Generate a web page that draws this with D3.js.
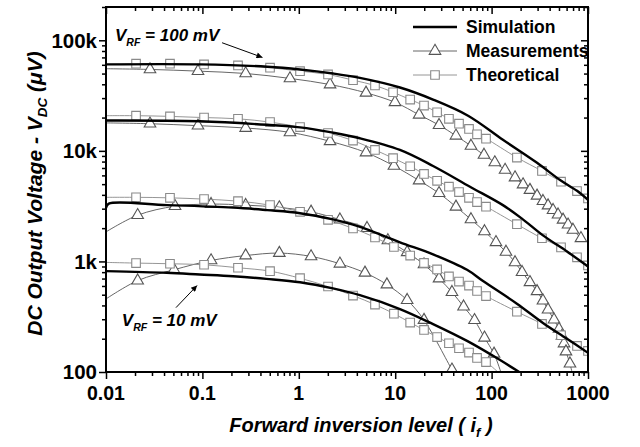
<!DOCTYPE html>
<html><head><meta charset="utf-8">
<script src="https://cdn.jsdelivr.net/npm/d3@7"></script>
<style>html,body{margin:0;padding:0;background:#fff;}svg{display:block;font-family:"Liberation Sans",Arial,sans-serif;}</style>
</head><body><svg id="c" width="640" height="447"></svg>
<script>
// ---- data: [forward inversion level i_f, V_DC in µV] ----
const simA  = [[0.01,60500],[0.094,60500],[0.47,57700],[1.03,54500],[2.26,50100],[4.3,45700],[11.2,37400],[24.7,29100],[57,20800],[131,12600],[296,7800],[513,5450],[769,4350],[1000,3600]];
const theoA = [[0.01,60500],[0.0205,61400],[0.0461,61400],[0.104,60500],[0.234,59300],[0.503,56500],[1.03,52600],[2.01,49100],[3.65,43600],[6.17,39000],[9.5,33900],[14.3,29100],[19.9,25700],[27.2,22300],[36.1,19500],[45.9,17600],[58.3,15800],[70.6,14100],[87.5,12900],[183,8700],[333,6580],[525,5260],[769,4330],[1000,3710]];
const measA = [[0.01,55300],[0.0286,54500],[0.09,52600],[0.281,50100],[0.81,45200],[2.11,39800],[4.98,33500],[9.95,27500],[17.7,21200],[28.5,17100],[42.7,13700],[61.1,11100],[83.4,9200],[108,7860],[138,6720],[175,5740],[212,4960],[250,4420],[296,3920],[341,3510],[385,3200],[434,2910],[489,2650],[551,2380],[621,2150],[698,1930],[845,1620]];

const simB  = [[0.01,18800],[0.094,18500],[0.47,17200],[1.03,16300],[2.26,14600],[4.3,13000],[11.2,10200],[24.7,7300],[59.7,4740],[131,3230],[205,2450],[341,1720],[605,1230],[1000,900]];
const theoB = [[0.01,20800],[0.0205,20800],[0.0461,20500],[0.104,20000],[0.234,19500],[0.503,18200],[1.03,16400],[2.01,14500],[3.65,12400],[6.17,10200],[9.5,8590],[14.3,7260],[19.9,6180],[27.2,5360],[36.1,4740],[45.9,4240],[58.3,3760],[70.6,3440],[87.5,3130],[183,2170],[333,1620],[525,1340],[769,1090],[1000,920]];
const measB = [[0.01,17900],[0.0286,17600],[0.09,16900],[0.281,16100],[0.81,14700],[2.11,12200],[4.98,9660],[9.7,7310],[17.7,5390],[28.5,4140],[42.7,3120],[61.1,2400],[84.4,1870],[111,1490],[141,1220],[175,980],[207,800],[250,648],[296,537],[341,442],[385,366],[444,297],[500,245],[537,212],[564,181],[591,153],[650,119],[690,95]];

const simC  = [[0.01,3050],[0.0107,3330],[0.043,3230],[0.208,3070],[0.47,2910],[1.03,2730],[2.26,2400],[3.65,2150],[5.1,1950],[11.2,1490],[24.7,1160],[55.6,840],[81.5,665],[183,415],[341,278],[605,200],[1000,149]];
const theoC = [[0.01,3800],[0.0205,3800],[0.0461,3760],[0.104,3660],[0.234,3510],[0.503,3230],[1.03,2810],[2.01,2380],[3.65,1990],[6.17,1650],[9.7,1350],[14.3,1130],[19.9,970],[27.2,846],[36.1,731],[45.9,657],[58.3,605],[70.6,540],[87.5,486],[183,351],[333,272],[525,215],[769,172],[1000,155]];
const measC = [[0.01,1850],[0.0213,2620],[0.052,3160],[0.123,3300],[0.281,3230],[0.628,3080],[1.34,2810],[2.67,2390],[5.1,2000],[8.4,1550],[13.3,1210],[19.9,939],[28.5,700],[38.8,528],[51.2,390],[66.5,294],[84.4,204],[106,146],[127,95]];

const simD  = [[0.01,817],[0.0426,789],[0.094,762],[0.208,735],[0.46,696],[1.03,648],[2.26,570],[4.3,495],[11.2,371],[24.7,271],[55.6,191],[103.5,140],[197,99]];
const theoD = [[0.01,980],[0.0205,966],[0.0461,953],[0.104,933],[0.234,877],[0.503,817],[1.03,705],[2.01,593],[3.65,491],[6.17,407],[9.7,337],[14.3,280],[19.9,240],[27.2,207],[36.1,182],[45.9,164],[58.3,150],[70.6,134],[87.5,123],[122,96]];
const measD = [[0.01,458],[0.0213,671],[0.0508,841],[0.123,1020],[0.281,1130],[0.628,1190],[1.34,1110],[2.67,953],[4.86,789],[8.2,618],[13.3,447],[19.9,295],[38.8,105],[41.5,96]];

const xTicks = [0.01,0.1,1,10,100,1000];
const xTickLabels = ["0.01","0.1","1","10","100","1000"];
const yTicks = [100,1000,10000,100000];
const yTickLabels = ["100","1k","10k","100k"];
const legendLabels = ["Simulation","Measurements","Theoretical"];

// ---- layout ----
const svg = d3.select("#c");
const L = 106, R = 588, T = 7, B = 372;
const x = d3.scaleLog().domain([0.01,1000]).range([L,R]);
const y = d3.scaleLog().domain([100,200000]).range([B,T]);

const xMinor = [];
for (let e=-2;e<3;e++) for (let k=2;k<10;k++) xMinor.push(k*Math.pow(10,e));
const yMinor = [];
for (let e=2;e<6;e++) for (let k=2;k<10;k++){const v=k*Math.pow(10,e); if(v<=200000) yMinor.push(v);}

function axisG(axisFn, scale, vals, size, tx, ty){
  const g = svg.append("g").attr("transform",`translate(${tx},${ty})`)
    .call(axisFn(scale).tickValues(vals).tickSize(size).tickSizeOuter(0).tickFormat(""));
  g.select(".domain").remove();
  g.selectAll("line").attr("stroke","#000").attr("stroke-width",1.5);
  return g;
}
axisG(d3.axisBottom, x, xTicks, 7, 0, B);
axisG(d3.axisBottom, x, xMinor, 4, 0, B);
axisG(d3.axisBottom, x, xTicks, 7, 0, T);
axisG(d3.axisBottom, x, xMinor, 4, 0, T);
axisG(d3.axisLeft, y, yTicks, 7, L, 0);
axisG(d3.axisLeft, y, yMinor, 4, L, 0);
axisG(d3.axisLeft, y, yTicks, 7, R, 0);
axisG(d3.axisLeft, y, yMinor, 4, R, 0);

svg.append("g").selectAll("text").data(xTicks).join("text")
  .attr("x",d=>x(d)).attr("y",B+28).attr("text-anchor","middle")
  .attr("font-size",19.5).attr("font-weight","bold")
  .text((d,i)=>xTickLabels[i]);
svg.append("g").selectAll("text").data(yTicks).join("text")
  .attr("x",L-9).attr("y",d=>y(d)).attr("dy","0.36em").attr("text-anchor","end")
  .attr("font-size",20.5).attr("font-weight","bold")
  .text((d,i)=>yTickLabels[i]);

svg.append("defs").append("clipPath").attr("id","clip")
  .append("rect").attr("x",L).attr("y",T).attr("width",R-L).attr("height",B-T);
svg.select("defs").append("marker").attr("id","arr").attr("viewBox","0 0 10 10")
  .attr("refX",10).attr("refY",5).attr("markerWidth",9).attr("markerHeight",6)
  .attr("markerUnits","userSpaceOnUse").attr("orient","auto")
  .append("path").attr("d","M0,0L10,5L0,10z").attr("fill","#000");

const plot = svg.append("g").attr("clip-path","url(#clip)");
const line = d3.line().x(d=>x(d[0])).y(d=>y(d[1])).curve(d3.curveCatmullRom.alpha(0.5));

const triSym = d3.symbol().type(d3.symbolTriangle).size(58);
const sqSym = d3.symbol().type(d3.symbolSquare).size(74);
const measCol = "#555", theoCol = "#8a8a8a";

function series(data, col, sym){
  plot.append("path").datum(data).attr("d",line).attr("fill","none")
    .attr("stroke",col).attr("stroke-width",0.9);
  plot.append("g").selectAll("path").data(data.filter(d=>d[0]>0.01 && d[1]>=100)).join("path")
    .attr("transform",d=>`translate(${x(d[0])},${y(d[1])})`)
    .attr("d",sym).attr("fill","#fff").attr("stroke",col).attr("stroke-width",1.1);
}
[measA,measB,measC,measD].forEach(s=>series(s,measCol,triSym));
[theoA,theoB,theoC,theoD].forEach(s=>series(s,theoCol,sqSym));
[simA,simB,simC,simD].forEach(s=>{
  plot.append("path").datum(s).attr("d",line).attr("fill","none")
    .attr("stroke","#000").attr("stroke-width",2.4);
});

svg.append("rect").attr("x",L).attr("y",T).attr("width",R-L).attr("height",B-T)
  .attr("fill","none").attr("stroke","#000").attr("stroke-width",2);

// legend
const legY = [27,51,75];
const lg = svg.append("g");
lg.append("line").attr("x1",413).attr("x2",457).attr("y1",legY[0]).attr("y2",legY[0]).attr("stroke","#000").attr("stroke-width",2.4);
lg.append("line").attr("x1",413).attr("x2",457).attr("y1",legY[1]).attr("y2",legY[1]).attr("stroke",measCol).attr("stroke-width",0.9);
lg.append("path").attr("transform",`translate(435,${legY[1]})`).attr("d",triSym).attr("fill","#fff").attr("stroke",measCol).attr("stroke-width",1.1);
lg.append("line").attr("x1",413).attr("x2",457).attr("y1",legY[2]).attr("y2",legY[2]).attr("stroke",theoCol).attr("stroke-width",0.9);
lg.append("path").attr("transform",`translate(435,${legY[2]})`).attr("d",sqSym).attr("fill","#fff").attr("stroke",theoCol).attr("stroke-width",1.1);
lg.selectAll("text").data(legendLabels).join("text")
  .attr("x",466).attr("y",(d,i)=>legY[i]).attr("dy","0.36em")
  .attr("font-size",17.5).attr("font-weight","bold").text(d=>d);

// annotations
const notes = [
  {val:"100 mV", tx:0.0124, ty:98000, a1:[0.16,95000], a2:[0.42,70000]},
  {val:"10 mV",  tx:0.0146, ty:262,   a1:[0.0532,382], a2:[0.088,605]}
];
notes.forEach(n=>{
  const t = svg.append("text").attr("x",x(n.tx)).attr("y",y(n.ty))
    .attr("font-size",17).attr("font-weight","bold").attr("font-style","italic");
  t.append("tspan").text("V");
  t.append("tspan").attr("dy",5).attr("font-size",10.5).text("RF");
  t.append("tspan").attr("dy",-5).text(" = " + n.val);
  svg.append("line").attr("x1",x(n.a1[0])).attr("y1",y(n.a1[1]))
    .attr("x2",x(n.a2[0])).attr("y2",y(n.a2[1]))
    .attr("stroke","#000").attr("stroke-width",1).attr("marker-end","url(#arr)");
});

// axis titles
const xt = svg.append("text").attr("x",(L+R)/2+14).attr("y",432).attr("text-anchor","middle")
  .attr("font-size",20).attr("font-weight","bold").attr("font-style","italic");
xt.append("tspan").text("Forward inversion level ( i");
xt.append("tspan").attr("dy",5).attr("font-size",13).text("f");
xt.append("tspan").attr("dy",-5).text(" )");

const yt = svg.append("text").attr("transform",`translate(42,${(T+B)/2+4}) rotate(-90)`)
  .attr("text-anchor","middle").attr("font-size",21).attr("font-weight","bold").attr("font-style","italic");
yt.append("tspan").text("DC Output Voltage - V");
yt.append("tspan").attr("dy",5).attr("font-size",13.5).text("DC");
yt.append("tspan").attr("dy",-5).text(" (\u03BCV)");
</script></body></html>
